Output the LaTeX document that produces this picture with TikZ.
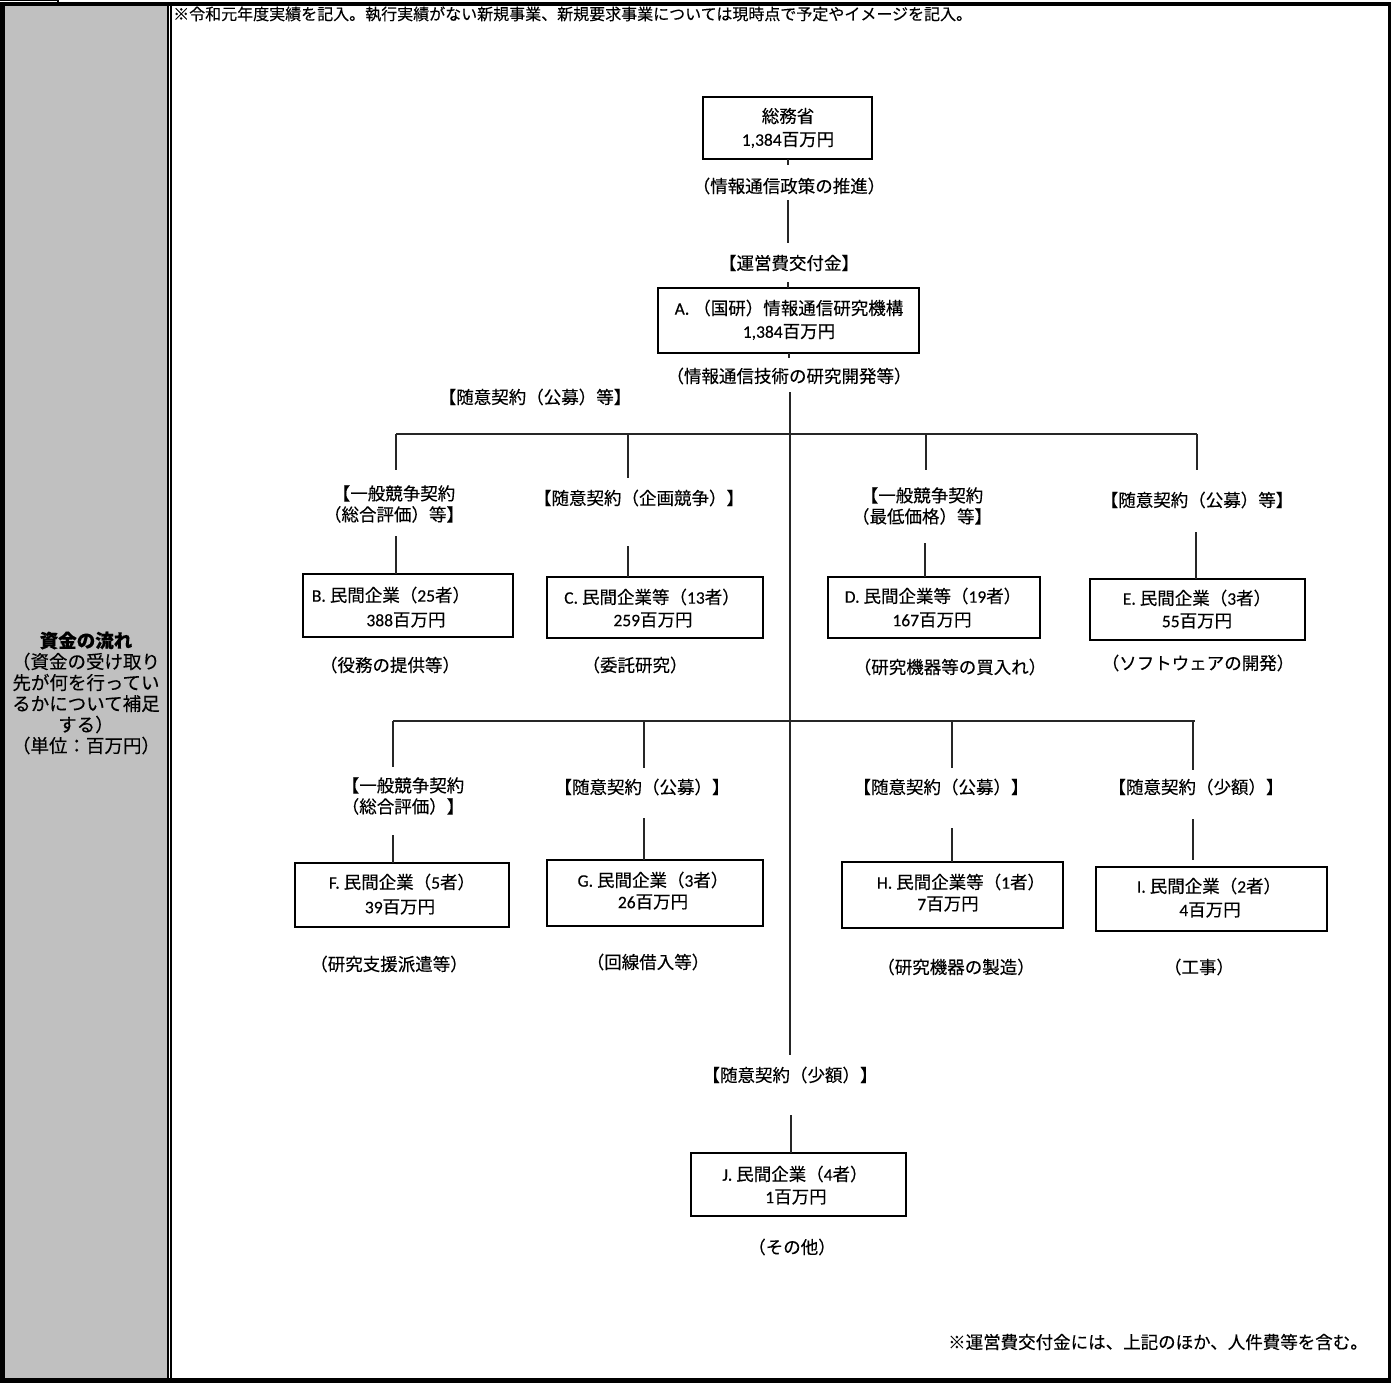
\documentclass[tikz,border=0pt]{standalone}
\usepackage{fontspec}
\setmainfont{Noto Sans CJK JP}[FakeBold=0.25]
\newfontfamily\lat{Carlito}[FakeBold=0.25]
\newcommand\mkbox[5]{\node[box,minimum width={#4-#2},minimum height={#5-#3}] (#1) at ({(#2+#4)/2},{(#3+#5)/2}) {};}
\newcommand\vseg[4]{\coordinate (#1-a) at (#2,#3); \coordinate (#1-b) at (#2,#4); \draw[con] (#1-a) -- (#1-b);}
\begin{document}
\begin{tikzpicture}[x=1pt,y=-1pt,
  box/.style={draw=black,line width=1.2pt,rectangle,inner sep=0pt},
  txt/.style={inner sep=0pt,font=\fontsize{17.5}{21}\selectfont,align=center},
  con/.style={line width=1.1pt,draw=black!85}]
\useasboundingbox (0,0) rectangle (1391,1383);
% frame
\fill[fill={rgb,255:red,192;green,192;blue,192}] (5,6) rectangle (167,1378);
\fill[black] (0,2) rectangle (1391,6);
\fill[black] (0,0) rectangle (57,1);
\fill[black] (57,0) rectangle (59,3);
\fill[black] (0,2) rectangle (5,1383);
\fill[black] (1388,2) rectangle (1391,1383);
\fill[black] (0,1377.5) rectangle (1391,1383);
\fill[black] (167,6) rectangle (168.7,1378);
\fill[black] (170,6) rectangle (172,1378);
% left column
\node[inner sep=0pt,align=center,font=\fontsize{18.5}{21}\selectfont] (side) at (86,693)
 {\textbf{資金の流れ}\\（資金の受け取り\\先が何を行ってい\\るかについて補足\\する）\\（単位：百万円）};
% top note
\node[inner sep=0pt,anchor=west,font=\fontsize{16}{18}\selectfont] (note) at (173,14)
 {※令和元年度実績を記入。執行実績がない新規事業、新規要求事業については現時点で予定やイメージを記入。};
\node[inner sep=0pt,anchor=east,font=\fontsize{17.5}{20}\selectfont] (note2) at (1368,1342)
 {※運営費交付金には、上記のほか、人件費等を含む。};
% boxes
\mkbox{gov}{703}{97}{872}{159}
\mkbox{A}{658}{288}{919}{353}
\mkbox{B}{303}{574}{513}{637}
\mkbox{C}{547}{577}{763}{638}
\mkbox{D}{828}{577}{1040}{638}
\mkbox{E}{1090}{579}{1305}{640}
\mkbox{F}{295}{863}{509}{927}
\mkbox{G}{547}{860}{763}{926}
\mkbox{H}{842}{862}{1063}{928}
\mkbox{I}{1096}{867}{1327}{931}
\mkbox{J}{691}{1153}{906}{1216}
% box texts
\node[txt] (gov1) at (788,116) {総務省};
\node[txt] (gov2) at (788,140) {{\lat 1,384}百万円};
\node[txt] (A1) at (789,308) {{\lat A.~}（国研）情報通信研究機構};
\node[txt] (A2) at (789,332) {{\lat 1,384}百万円};
\node[txt] (B1) at (391,595) {{\lat B.~}民間企業（{\lat 25}者）};
\node[txt] (B2) at (406,620) {{\lat 388}百万円};
\node[txt] (C1) at (652,597) {{\lat C.~}民間企業等（{\lat 13}者）};
\node[txt] (C2) at (653,620) {{\lat 259}百万円};
\node[txt] (D1) at (933,596) {{\lat D.~}民間企業等（{\lat 19}者）};
\node[txt] (D2) at (932,620) {{\lat 167}百万円};
\node[txt] (E1) at (1197,598) {{\lat E.~}民間企業（{\lat 3}者）};
\node[txt] (E2) at (1197,621) {{\lat 55}百万円};
\node[txt] (F1) at (402,882) {{\lat F.~}民間企業（{\lat 5}者）};
\node[txt] (F2) at (400,907) {{\lat 39}百万円};
\node[txt] (G1) at (653,880) {{\lat G.~}民間企業（{\lat 3}者）};
\node[txt] (G2) at (653,902) {{\lat 26}百万円};
\node[txt] (H1) at (961,882) {{\lat H.~}民間企業等（{\lat 1}者）};
\node[txt] (H2) at (948,904) {{\lat 7}百万円};
\node[txt] (I1) at (1209,886) {{\lat I.~}民間企業（{\lat 2}者）};
\node[txt] (I2) at (1210,910) {{\lat 4}百万円};
\node[txt] (J1) at (795,1174) {{\lat J.~}民間企業（{\lat 4}者）};
\node[txt] (J2) at (796,1197) {{\lat 1}百万円};
% labels
\node[txt] (l0a) at (789,186) {（情報通信政策の推進）};
\node[txt] (l0b) at (789,263) {【運営費交付金】};
\node[txt] (l0c) at (789,376) {（情報通信技術の研究開発等）};
\node[txt] (l0d) at (535,397) {【随意契約（公募）等】};
\node[txt] (lB) at (394,504) {【一般競争契約\\（総合評価）等】};
\node[txt] (lC) at (639,498) {【随意契約（企画競争）】};
\node[txt] (lD) at (922,506) {【一般競争契約\\（最低価格）等】};
\node[txt] (lE) at (1197,500) {【随意契約（公募）等】};
\node[txt] (uB) at (390,665) {（役務の提供等）};
\node[txt] (uC) at (635,665) {（委託研究）};
\node[txt] (uD) at (950,667) {（研究機器等の買入れ）};
\node[txt] (uE) at (1198,663) {（ソフトウェアの開発）};
\node[txt] (lF) at (403,796) {【一般競争契約\\（総合評価）】};
\node[txt] (lG) at (642,787) {【随意契約（公募）】};
\node[txt] (lH) at (941,787) {【随意契約（公募）】};
\node[txt] (lI) at (1196,787) {【随意契約（少額）】};
\node[txt] (uF) at (389,964) {（研究支援派遣等）};
\node[txt] (uG) at (648,962) {（回線借入等）};
\node[txt] (uH) at (956,967) {（研究機器の製造）};
\node[txt] (uI) at (1199,967) {（工事）};
\node[txt] (lJ) at (790,1075) {【随意契約（少額）】};
\node[txt] (uJ) at (792,1247) {（その他）};
% connectors
\vseg{s1}{788}{159}{165}
\vseg{s2}{788}{200}{243}
\vseg{s3}{788}{282}{288}
\vseg{s4}{789}{353}{358}
\vseg{trunk}{790}{392}{1055}
\coordinate (bar1-a) at (396,434); \coordinate (bar1-b) at (1197,434);
\draw[con] (bar1-a) -- (bar1-b);
\vseg{dB}{396}{434}{470}
\vseg{dC}{628}{434}{478}
\vseg{dD}{926}{434}{470}
\vseg{dE}{1197}{434}{470}
\vseg{kB}{396}{536}{574}
\vseg{kC}{628}{546}{577}
\vseg{kD}{925}{543}{577}
\vseg{kE}{1196}{532}{579}
\coordinate (bar2-a) at (393,721); \coordinate (bar2-b) at (1195,721);
\draw[con] (bar2-a) -- (bar2-b);
\vseg{dF}{393}{721}{767}
\vseg{dG}{644}{721}{768}
\vseg{dH}{952}{721}{768}
\vseg{dI}{1193}{721}{770}
\vseg{kF}{393}{835}{863}
\vseg{kG}{644}{818}{860}
\vseg{kH}{952}{828}{862}
\vseg{kI}{1193}{819}{860}
\vseg{kJ}{791}{1115}{1153}
\end{tikzpicture}
\end{document}
